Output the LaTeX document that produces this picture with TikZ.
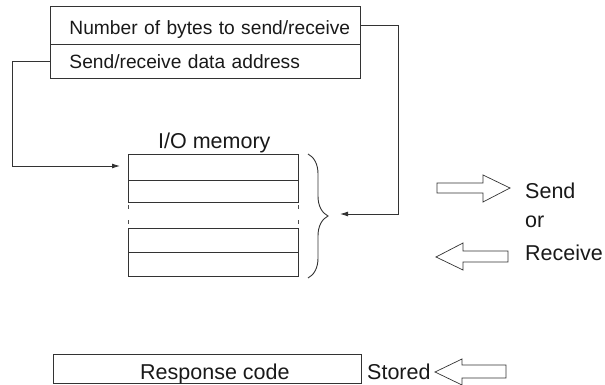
\documentclass[tikz,border=0pt]{standalone}
\usepackage{fontspec}
\setmainfont{Liberation Sans}
\usetikzlibrary{arrows.meta,decorations.pathreplacing}

\begin{document}
\begin{tikzpicture}[
    x=1pt, y=-1pt,
    >={Latex[length=8pt,width=5pt]},
    every node/.style={font=\fontsize{21.5}{24}\selectfont, text=black!90},
    field/.style={
        draw=black!80,
        line width=0.9pt,
        anchor=north west,
        inner xsep=0pt,
        inner ysep=0pt,
        text width=310pt,
        align=left,
        font=\fontsize{19.2}{22}\selectfont
    },
    cell/.style={
        draw=black!80,
        line width=0.9pt,
        anchor=north west,
        minimum width=170pt,
        inner sep=0pt
    },
    lbl/.style={anchor=base west, inner sep=0pt},
    arr/.style={->, line width=0.9pt, draw=black!80},
    hollow/.style={draw=black!80, line width=0.7pt, fill=white}
]
    \useasboundingbox (0,0) rectangle (605,385);

    % Parameter area
    \node[field, text height=28pt, text depth=10pt] (nbytes) at (50,6)
        {\hspace*{19pt}Number of bytes to send/receive};
    \node[field, text height=24pt, text depth=10pt] (addr) at (50,44)
        {\hspace*{19pt}Send/receive data address};

    % I/O memory words
    \node[lbl] (memtitle) at (158,149) {I/O memory};
    \node[cell, minimum height=26pt] (row1) at (128,154) {};
    \node[cell, minimum height=22pt] (row2) at (128,180) {};
    \node[cell, minimum height=24pt] (row3) at (128,228) {};
    \node[cell, minimum height=24pt] (row4) at (128,252) {};

    % Omitted words
    \draw[line width=0.9pt, draw=black!70, dash pattern=on 4pt off 11pt]
        (128,205) -- (128,225) (298,205) -- (298,225);

    % Brace over the words
    \draw[line width=0.9pt, draw=black!80,
        decorate, decoration={brace, amplitude=20pt}]
        (308,154) -- (308,278);
    \coordinate (memin) at (340,214);
    \coordinate (memtop) at (120,166);

    % Connectors
    \draw[arr] (nbytes.east) -- ++(38,0) |- (memin);
    \draw[arr] (addr.west) -- ++(-38,0) |- (memtop);

    % Send / Receive
    \draw[hollow] (437,183) -- (483,183) -- (483,175) -- (510,188)
        -- (483,202) -- (483,193) -- (437,193) -- cycle;
    \node[lbl] (send) at (525,198) {Send};
    \node[lbl] (or) at (525,227) {or};
    \draw[hollow] (508,251) -- (463,251) -- (463,243) -- (436,257)
        -- (463,270) -- (463,262) -- (508,262) -- cycle;
    \node[lbl] (receive) at (525,260) {Receive};

    % Response code
    \node[cell, minimum width=308pt, minimum height=29pt] (respbox) at (53,354) {};
    \node[lbl] (resp) at (140,379) {Response code};
    \node[lbl] (stored) at (367,379) {Stored};
    \draw[hollow] (506,365) -- (462,365) -- (462,359) -- (435,372)
        -- (462,385) -- (462,378) -- (506,378) -- cycle;

\end{tikzpicture}
\end{document}
